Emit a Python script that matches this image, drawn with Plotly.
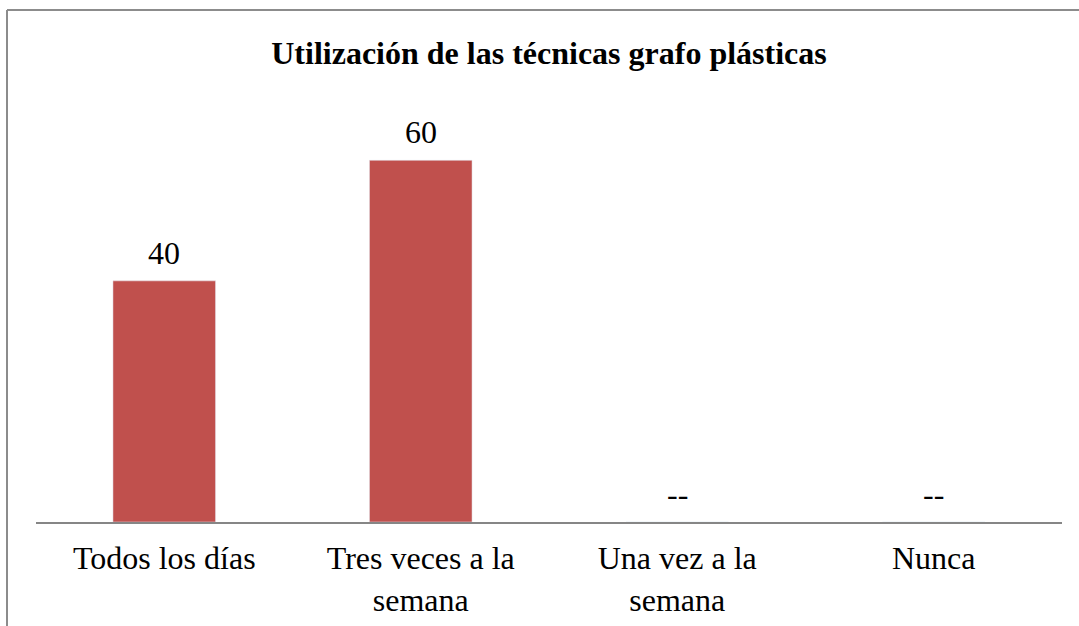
import plotly.graph_objects as go

categories = ["Todos los días", "Tres veces a la<br>semana", "Una vez a la<br>semana", "Nunca"]
values = [40, 60, 0, 0]
value_labels = ["40", "60", "--", "--"]

W, H = 1079, 626
L, R, T, B = 36, 17, 100, 104
pw, ph = W - L - R, H - T - B
FS = 32

fig = go.Figure(go.Bar(
    x=categories, y=values,
    marker=dict(color="#C0504D"), width=0.4, hoverinfo="x+y",
))

for c, v, lab in zip(categories, values, value_labels):
    fig.add_annotation(x=c, y=v, text=lab, showarrow=False, xanchor="center",
                       yanchor="bottom", yshift=8,
                       font=dict(family="Liberation Serif", size=FS, color="black"))

fig.update_layout(
    width=W, height=H,
    margin=dict(l=L, r=R, t=T, b=B, autoexpand=False),
    paper_bgcolor="white", plot_bgcolor="white",
    showlegend=False,
    title=dict(text="<b>Utilización de las técnicas grafo plásticas</b>",
               x=549 / W, xanchor="center", y=1 - 53 / H, yanchor="middle",
               font=dict(family="Liberation Serif", size=FS, color="black")),
    font=dict(family="Liberation Serif", size=FS, color="black"),
    xaxis=dict(showline=True, linecolor="#868686", linewidth=2, ticks="",
               tickfont=dict(size=FS, family="Liberation Serif", color="black"),
               ticklabelstandoff=7, showgrid=False, automargin=False),
    yaxis=dict(range=[0, 70], visible=False, showgrid=False, automargin=False),
    bargap=0.6,
)

x0 = (7 - L) / pw
y1 = (H - B - 10) / ph
fig.add_shape(type="line", xref="paper", yref="paper", x0=x0, x1=1 + R / pw + 0.01, y0=y1, y1=y1,
              line=dict(color="#8C8C8C", width=2))
fig.add_shape(type="line", xref="paper", yref="paper", x0=x0, x1=x0, y0=y1, y1=-B / ph - 0.01,
              line=dict(color="#8C8C8C", width=2))

fig.write_html("out.html", config={"displayModeBar": False},
               post_script="document.body.style.margin='0';document.body.style.overflow='hidden';")
